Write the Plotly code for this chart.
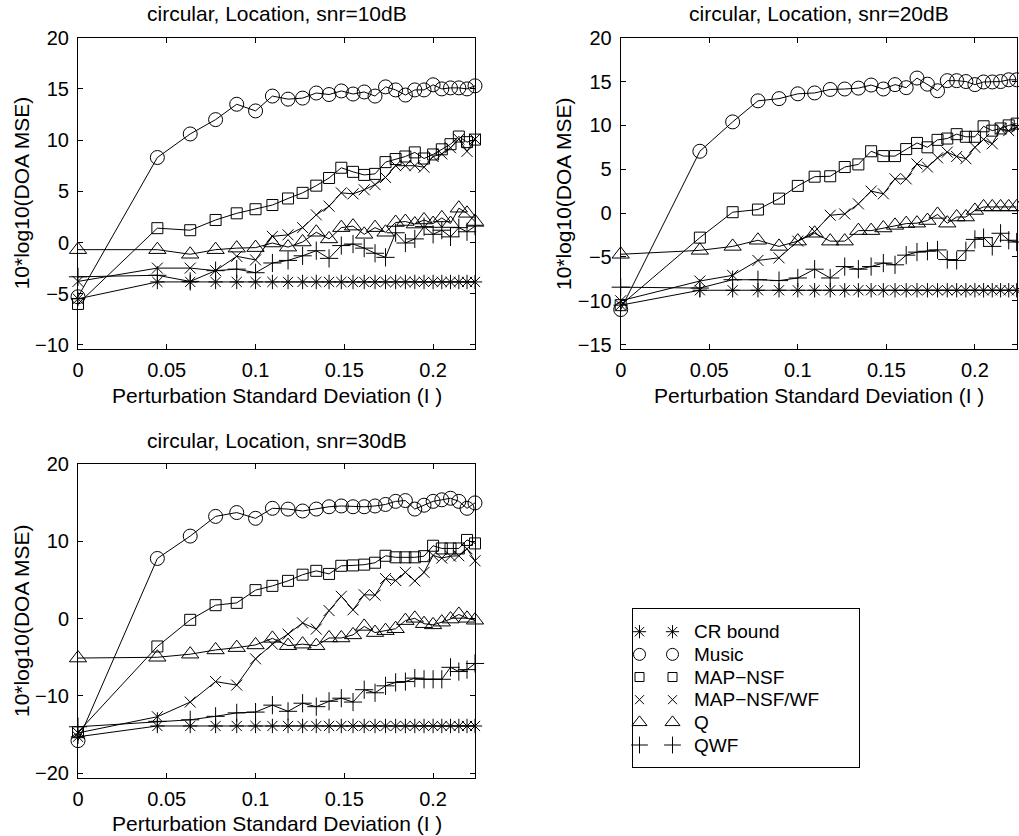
import plotly.graph_objects as go

W, H = 1019, 836

# ---------------- data ----------------
sigma = [0, 0.0447, 0.0632, 0.0775, 0.0894, 0.1, 0.1095, 0.1183, 0.1265, 0.1342,
         0.1414, 0.1483, 0.1549, 0.1612, 0.1673, 0.1732, 0.1789, 0.1844, 0.1897,
         0.1949, 0.2, 0.2049, 0.2098, 0.2145, 0.2191, 0.2236]

method_names = ["CR bound", "Music", "MAP\u2212NSF", "MAP\u2212NSF/WF", "Q", "QWF"]

# snr = 10 dB
cr_10 = [-5.5, -3.85, -3.85, -3.85, -3.85, -3.85, -3.85, -3.85, -3.85, -3.85, -3.85, -3.85, -3.85,
         -3.85, -3.85, -3.85, -3.85, -3.85, -3.85, -3.85, -3.85, -3.85, -3.85, -3.85, -3.85, -3.85]
music_10 = [-5.3, 8.3, 10.6, 12.0, 13.5, 12.85, 14.3, 14.0, 14.1, 14.6, 14.45, 14.8, 14.5,
            14.7, 14.3, 15.2, 14.9, 14.4, 14.9, 14.9, 15.4, 15.0, 15.1, 15.1, 15.0, 15.3]
mapnsf_10 = [-6.0, 1.4, 1.2, 2.2, 2.85, 3.25, 3.66, 4.3, 4.85, 5.55, 6.3, 7.3, 6.9,
             6.6, 6.7, 7.85, 8.15, 8.4, 8.8, 8.2, 8.6, 9.1, 9.6, 10.35, 9.8, 10.05]
mapnsfwf_10 = [-3.8, -2.5, -2.5, -2.75, -1.35, -1.7, 0.6, 0.75, 1.45, 2.7, 3.55, 4.85, 4.75,
               5.15, 5.65, 6.35, 7.5, 7.5, 7.5, 7.35, 8.4, 8.65, 9.25, 10.1, 8.9, 10.1]
q_10 = [-0.7, -0.7, -1.15, -0.7, -0.55, -0.5, -0.05, -0.45, 0.05, 1.0, 0.35, 1.45, 1.6,
        0.8, 1.45, 1.0, 1.95, 2.05, 1.8, 2.2, 1.85, 2.4, 1.85, 3.35, 2.85, 2.05]
qwf_10 = [-3.35, -3.2, -3.8, -2.75, -2.6, -2.95, -2.0, -1.75, -1.3, -0.8, -1.55, -0.3, -0.15,
          -0.55, -1.05, -1.45, 0.95, -0.05, 0.35, 1.55, 0.8, 1.2, 0.55, 1.45, 1.05, 1.6]

# snr = 20 dB
cr_20 = [-10.5, -8.8, -8.8, -8.8, -8.8, -8.8, -8.8, -8.8, -8.8, -8.8, -8.8, -8.8, -8.8,
         -8.8, -8.8, -8.8, -8.8, -8.8, -8.8, -8.8, -8.8, -8.8, -8.8, -8.8, -8.8, -8.8]
music_20 = [-11.0, 7.05, 10.4, 12.8, 13.05, 13.6, 13.7, 14.1, 14.15, 14.25, 14.6, 14.15, 14.65,
            14.3, 15.4, 14.7, 13.95, 15.1, 15.1, 15.0, 14.65, 14.95, 14.95, 15.0, 15.2, 15.2]
mapnsf_20 = [-10.5, -2.8, 0.1, 0.4, 1.65, 3.1, 4.15, 4.2, 5.25, 5.55, 7.05, 6.5, 6.5,
             7.3, 8.0, 7.5, 8.35, 8.5, 9.0, 8.7, 8.7, 9.9, 9.4, 9.65, 10.0, 10.2]
mapnsfwf_20 = [-10.0, -7.75, -7.1, -5.4, -5.1, -3.2, -2.1, -0.25, -0.1, 1.05, 2.5, 2.2, 3.9,
               3.9, 5.6, 5.25, 6.3, 6.95, 6.45, 6.2, 7.5, 8.4, 7.9, 9.6, 9.4, 9.8]
q_20 = [-4.7, -4.25, -3.8, -3.1, -3.8, -3.2, -2.3, -3.2, -3.2, -2.0, -2.0, -1.7, -1.4,
        -1.2, -1.15, -0.85, -0.15, -1.15, -0.45, -0.45, 0.3, 0.7, 0.7, 0.7, 0.7, 0.7]
qwf_20 = [-8.45, -8.55, -7.6, -7.6, -7.7, -7.4, -6.4, -7.4, -6.1, -6.4, -6.1, -5.7, -5.9,
          -4.8, -4.45, -4.35, -4.2, -5.3, -5.4, -4.3, -3.0, -2.8, -3.8, -2.3, -3.1, -3.3]

# snr = 30 dB
cr_30 = [-15.3, -13.9, -13.9, -13.9, -13.9, -13.9, -13.9, -13.9, -13.9, -13.9, -13.9, -13.9, -13.9,
         -13.9, -13.9, -13.9, -13.9, -13.9, -13.9, -13.9, -13.9, -13.9, -13.9, -13.9, -13.9, -13.9]
music_30 = [-15.8, 7.8, 10.7, 13.25, 13.75, 13.0, 14.3, 14.2, 13.95, 14.2, 14.5, 14.6, 14.5,
            14.5, 14.6, 14.8, 15.2, 15.3, 14.2, 14.7, 15.2, 15.4, 15.6, 15.2, 14.3, 15.0]
mapnsf_30 = [-14.7, -3.6, -0.15, 1.75, 2.05, 3.7, 4.25, 4.9, 5.7, 6.2, 5.8, 6.85, 6.9,
             7.0, 7.25, 8.15, 7.95, 7.95, 7.95, 8.1, 9.45, 9.1, 9.1, 9.1, 10.2, 9.75]
mapnsfwf_30 = [-14.8, -12.7, -10.8, -8.15, -8.6, -5.2, -3.3, -2.0, -0.55, -1.35, 1.05, 2.9, 1.15,
               3.1, 3.05, 5.2, 4.95, 6.0, 4.9, 6.0, 8.2, 7.85, 8.1, 8.15, 9.05, 7.5]
q_30 = [-5.1, -5.0, -4.6, -4.05, -3.75, -3.4, -2.55, -3.5, -3.3, -3.5, -2.5, -2.5, -2.1,
        -1.0, -1.8, -1.55, -1.3, -0.25, 0.05, -0.65, -0.8, -0.45, -0.05, 0.55, 0.05, -0.2]
qwf_30 = [-14.0, -13.3, -13.1, -12.65, -12.2, -12.1, -11.2, -12.0, -10.95, -11.4, -10.7, -10.3, -10.8,
          -9.2, -9.6, -8.7, -8.25, -8.15, -7.7, -7.85, -7.85, -7.85, -6.3, -6.85, -6.6, -5.8]

panel_titles = ["circular, Location, snr=10dB", "circular, Location, snr=20dB",
                "circular, Location, snr=30dB"]
x_ticks = [0, 0.05, 0.1, 0.15, 0.2]
x_tick_text = ["0", "0.05", "0.1", "0.15", "0.2"]
y_ticks_10 = [-10, -5, 0, 5, 10, 15, 20]
y_ticks_20 = [-15, -10, -5, 0, 5, 10, 15, 20]
y_ticks_30 = [-20, -10, 0, 10, 20]

panels_data = [
    [cr_10, music_10, mapnsf_10, mapnsfwf_10, q_10, qwf_10],
    [cr_20, music_20, mapnsf_20, mapnsfwf_20, q_20, qwf_20],
    [cr_30, music_30, mapnsf_30, mapnsfwf_30, q_30, qwf_30],
]

# ---------------- styling ----------------
FONT = "Liberation Sans, Arial, Helvetica, sans-serif"
FS_TICK = 20
FS_TITLE = 21
FS_LEG = 19
markers = [
    dict(symbol="asterisk-open", size=12),
    dict(symbol="circle-open", size=14),
    dict(symbol="square-open", size=11),
    dict(symbol="x-thin-open", size=11),
    dict(symbol="triangle-up-open", size=15),
    dict(symbol="cross-thin-open", size=13),
]
legend_markers = [
    dict(symbol="asterisk-open", size=11),
    dict(symbol="circle-open", size=12),
    dict(symbol="square-open", size=9),
    dict(symbol="x-thin-open", size=9),
    dict(symbol="triangle-up-open", size=13),
    dict(symbol="cross-thin-open", size=12),
]

# pixel boxes of the three axes: (left, right, top, bottom)
boxes = [(78, 475, 37.7, 349), (620.7, 1016.7, 37.7, 349), (78, 475, 464.3, 777.7)]
yranges = [[-10.4, 20], [-15.5, 20], [-20.6, 20]]
yticks = [y_ticks_10, y_ticks_20, y_ticks_30]

fig = go.Figure()

def px2dom(l, r, t, b):
    return [l / W, r / W], [1 - b / H, 1 - t / H]

annotations = []
for i, (box, data) in enumerate(zip(boxes, panels_data)):
    n = "" if i == 0 else str(i + 1)
    xa, ya = "x" + n, "y" + n
    for j, ys in enumerate(data):
        fig.add_trace(go.Scatter(
            x=sigma, y=ys, xaxis=xa, yaxis=ya, mode="lines+markers",
            line=dict(color="black", width=1),
            marker=dict(color="black", line=dict(color="black", width=1), **markers[j]),
            cliponaxis=False, showlegend=False, name=method_names[j]))
    xd, yd = px2dom(*box)
    axcommon = dict(showline=True, linecolor="black", linewidth=1, mirror="ticks",
                    ticks="inside", ticklen=5, tickcolor="black", tickwidth=1,
                    showgrid=False, zeroline=False, automargin=False,
                    tickfont=dict(family=FONT, size=FS_TICK, color="black"))
    fig.update_layout(**{
        ("xaxis" + n): dict(domain=xd, anchor=ya, range=[0, 0.2236],
                            tickvals=x_ticks, ticktext=x_tick_text,
                            ticklabelstandoff=3, **axcommon),
        ("yaxis" + n): dict(domain=yd, anchor=xa, range=yranges[i],
                            tickvals=yticks[i], ticklabelstandoff=4, **axcommon),
    })
    l, r, t, b = box
    cx = (l + r) / 2
    annotations.append(dict(text=panel_titles[i], x=cx / W, y=1 - (t - 24) / H,
                            xref="paper", yref="paper", showarrow=False,
                            xanchor="center", yanchor="middle",
                            font=dict(family=FONT, size=FS_TITLE, color="black")))
    annotations.append(dict(text="Perturbation Standard Deviation (I )", x=cx / W,
                            y=1 - (b + 46) / H, xref="paper", yref="paper",
                            showarrow=False, xanchor="center", yanchor="middle",
                            font=dict(family=FONT, size=FS_TITLE, color="black")))
    annotations.append(dict(text="10*log10(DOA MSE)", x=(l - 57) / W,
                            y=1 - ((t + b) / 2) / H, xref="paper", yref="paper",
                            showarrow=False, xanchor="center", yanchor="middle",
                            textangle=-90,
                            font=dict(family=FONT, size=FS_TITLE, color="black")))

# ---------------- legend box (axis 4, pixel coordinates) ----------------
LG = (633, 859, 609, 767)
xd, yd = px2dom(*LG)
fig.update_layout(
    xaxis4=dict(domain=xd, anchor="y4", range=[LG[0], LG[1]], showline=True,
                linecolor="black", linewidth=1, mirror=True, showticklabels=False,
                ticks="", showgrid=False, zeroline=False, fixedrange=True, automargin=False),
    yaxis4=dict(domain=yd, anchor="x4", range=[LG[3], LG[2]], showline=True,
                linecolor="black", linewidth=1, mirror=True, showticklabels=False,
                ticks="", showgrid=False, zeroline=False, fixedrange=True, automargin=False),
)
row0, drow = 631.7, 22.66
for j, name in enumerate(method_names):
    yy = row0 + j * drow
    fig.add_trace(go.Scatter(
        x=[639.5, 672.5], y=[yy, yy], xaxis="x4", yaxis="y4", mode="markers",
        marker=dict(color="black", line=dict(color="black", width=1), **legend_markers[j]),
        cliponaxis=False, showlegend=False, hoverinfo="skip"))
    annotations.append(dict(text=name, x=692, y=yy, xref="x4", yref="y4",
                            showarrow=False, xanchor="left", yanchor="middle",
                            font=dict(family=FONT, size=FS_LEG, color="black")))

fig.update_layout(
    width=W, height=H, margin=dict(l=0, r=0, t=0, b=0, autoexpand=False),
    paper_bgcolor="white", plot_bgcolor="white",
    annotations=annotations, showlegend=False,
)

fig.write_html("out.html", config={"displayModeBar": False},
               post_script="document.body.style.margin='0px';document.body.style.overflow='hidden';")
